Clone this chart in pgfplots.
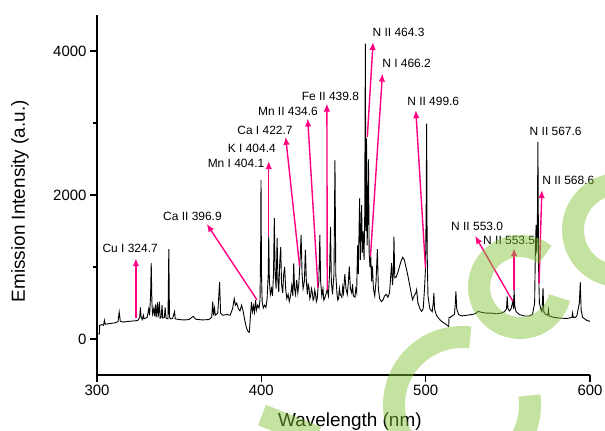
\documentclass[border=0pt]{standalone}
\usepackage{pgfplots}
\pgfplotsset{compat=1.18}
\usepackage{fontspec}
\setmainfont{Liberation Sans}
\usetikzlibrary{arrows.meta}

\definecolor{arrowpink}{RGB}{255,0,128}
\definecolor{wmgreen}{RGB}{129,194,48}

\newcommand{\lbl}[3]{\node[font=\fontsize{12}{14}\selectfont, inner sep=0pt] at (axis cs:#1,#2) {#3};}
\newcommand{\arr}[4]{\draw[arrowpink, line width=1.4pt, -{Latex[length=8bp,width=6.5bp]}] (axis cs:#1,#2) -- (axis cs:#3,#4);}

\begin{document}
\begin{tikzpicture}[x=1bp,y=1bp]
\begin{axis}[
    at={(0,0)}, anchor=south west,
    scale only axis,
    width=493bp, height=360bp,
    xmin=300, xmax=600,
    ymin=-500, ymax=4500,
    axis x line*=bottom,
    axis y line*=left,
    axis line style={line width=1.2pt},
    xtick={300,400,500,600},
    ytick={0,2000,4000},
    minor ytick={1000,3000},
    tick align=outside,
    major tick length=7bp,
    minor tick length=4bp,
    every tick/.style={line width=1.2pt, black},
    /pgf/number format/assume math mode=true,
    /pgf/number format/1000 sep={},
    tick label style={font=\fontsize{15}{18}\selectfont},
    xlabel={Wavelength (nm)},
    ylabel={Emission Intensity (a.u.)},
    label style={font=\fontsize{19}{22}\selectfont},
    xlabel style={at={(axis description cs:0.513,-0.13)}, anchor=center},
    ylabel style={at={(axis description cs:-0.156,0.483)}, anchor=center},
    clip=false,
]
\addplot[black, line width=0.9pt] coordinates {
(300.0,70) (301.5,70) (301.6,190) (303,200) (304,190) (304.5,260) (305,205) (308,215)
(311,225) (312.8,240) (313.5,375) (314.2,245) (316,235) (319,245) (322,250) (324,255)
(325,262) (326,300) (326.4,440) (326.8,310) (327.5,270) (328.2,330) (328.6,280) (329.5,290)
(330.5,300) (331.5,420) (332,330) (332.6,600) (333.0,1055) (333.4,520) (333.8,350) (334.5,420)
(335,320) (335.6,480) (336,300) (336.8,510) (337.2,300) (338,520) (338.4,290) (339,300)
(339.6,470) (340,290) (341,300) (341.5,440) (342,290) (343.2,280) (343.7,1250) (344.1,300)
(345,280) (346,285) (347.2,380) (347.6,280) (350,270) (353,265) (356,270) (358.5,315)
(360,275) (364,265) (368,270) (369.8,300) (370.4,520) (370.9,330) (371.5,430) (372,330)
(373.5,360) (374.6,790) (375.2,360) (376.5,330) (379,340) (381,330) (382.5,420) (383.5,560)
(384.2,470) (385,500) (386,420) (387,390) (388,470) (389,380) (390,250) (391,150)
(392,100) (392.7,95) (393.3,300) (394,510) (394.6,380) (395.2,460) (395.8,370) (396.5,540)
(397.0,400) (397.8,470) (398.6,430) (399.2,540) (399.6,1300) (399.8,2210) (400.1,900) (400.5,520)
(401.2,430) (402,470) (402.8,440) (403.5,560) (404.2,900) (404.5,1430) (404.9,800) (405.5,620)
(406.2,700) (406.8,600) (407.4,900) (407.9,1680) (408.4,900) (409.0,700) (409.6,1400) (410.1,800)
(410.6,650) (411.2,1060) (411.8,1280) (412.3,760) (413,640) (413.6,900) (414.2,1000) (414.8,700)
(415.5,560) (416.3,620) (417,520) (417.8,600) (418.5,740) (419.2,600) (419.7,1050) (420.2,700)
(420.8,620) (421.5,820) (422.2,640) (422.8,760) (423.4,1010) (424.2,1446) (424.8,900) (425.4,700)
(426.2,800) (426.8,1237) (427.4,800) (428,620) (428.5,760) (429,720) (429.5,560) (430,600)
(430.5,700) (431,650) (431.5,540) (432,560) (432.5,680) (433,620) (433.5,520) (434,560)
(434.5,707) (435.0,800) (435.6,1446) (436.1,800) (436.8,600) (437.5,700) (438,540) (438.5,560)
(439.3,620) (440.1,684) (440.8,600) (441.5,900) (442.1,1557) (442.6,800) (443.3,620) (444.2,900)
(444.8,2485) (445.3,900) (446,640) (446.5,540) (447,560) (447.5,700) (448,620) (449,580)
(449.5,720) (450,640) (450.8,900) (451.5,700) (452.3,620) (453,800) (453.5,1007) (454.2,700)
(455,640) (455.5,760) (456,600) (457,580) (457.5,700) (458,650) (458.6,1300) (459.0,900)
(459.8,1954) (460.3,1100) (461,1861) (461.5,1200) (462,1500) (462.5,1100) (462.9,1700) (463.3,4102)
(463.6,1500) (464.0,2785) (464.4,1300) (464.8,1800) (465.2,2494) (465.6,1200) (466.1,1000) (466.6,1146)
(467.1,800) (467.6,1007) (468.2,700) (469,600) (469.8,800) (470.6,1247) (471.2,700) (472,560)
(473,520) (474,540) (475,600) (476,620) (477,580) (478,640) (478.8,900) (479.3,1053)
(479.8,750) (480.3,900) (480.7,1423) (481.2,850) (482,860) (483,920) (484,1000) (485,1080)
(486,1136) (487,1100) (488,1000) (489,900) (490,780) (491,660) (492,545) (493,600)
(494,640) (494.5,684) (495.3,500) (496.5,420) (497.5,383) (498.5,420) (499.3,700) (499.9,984)
(500.3,1800) (500.6,2993) (500.9,1200) (501.4,600) (502.5,420) (504,380) (504.6,500) (505,637)
(505.4,420) (506.5,330) (508.6,268) (510,240) (512,210) (514,175) (514.2,300) (515,300)
(516,320) (517.5,340) (518,480) (518.4,660) (518.9,420) (520,340) (522,320) (525,330)
(528,340) (530,350) (532,383) (534,370) (537,360) (540,360) (543,350) (546,360)
(548,380) (549.2,420) (549.6,591) (550.1,420) (551,390) (552,420) (552.6,480) (553.1,522)
(553.5,420) (553.8,684) (554.2,460) (555,380) (557,340) (560,320) (563,320) (565,340)
(566.3,500) (566.8,1300) (567.2,1584) (567.6,1190) (568.0,1700) (568.3,2739) (568.7,1000) (569.2,500)
(570,420) (570.8,380) (571.4,707) (571.9,380) (573,340) (574.3,330) (574.7,406) (575.1,320)
(578,300) (582,290) (586,285) (589,300) (589.4,360) (589.8,300) (591,300) (592,320)
(593.5,500) (594.1,785) (594.6,400) (595.5,300) (598,260) (600,245)
};
\arr{323.7}{290}{323.7}{1122}
\arr{397.3}{545}{366.8}{1598}
\arr{404.5}{1432}{404.5}{2471}
\arr{423.3}{1007}{414.8}{2808}
\arr{434.5}{707}{428.2}{3062}
\arr{440.1}{684}{439.9}{3270}
\arr{464.5}{2808}{468}{4125}
\arr{466.4}{1146}{473.7}{3686}
\arr{499.9}{984}{494}{3178}
\arr{553.1}{522}{530.1}{1432}
\arr{553.8}{684}{553.8}{1261}
\arr{569}{776}{570.7}{2069}
\lbl{320.2}{1261}{Cu I 324.7}
\lbl{358.1}{1700}{Ca II 396.9}
\lbl{384.6}{2443}{Mn I 404.1}
\lbl{394.2}{2642}{K I 404.4}
\lbl{402.2}{2896}{Ca I 422.7}
\lbl{416.2}{3159}{Mn II 434.6}
\lbl{442}{3372}{Fe II 439.8}
\lbl{483.5}{4259}{N II 464.3}
\lbl{488.4}{3824}{N I 466.2}
\lbl{504.6}{3307}{N II 499.6}
\lbl{579.1}{2887}{N II 567.6}
\lbl{586.8}{2203}{N II 568.6}
\lbl{531.3}{1561}{N II 553.0}
\lbl{550.8}{1367}{N II 553.5}
\end{axis}
% watermark, drawn over the plot
\begin{scope}[wmgreen, opacity=0.46, line width=22bp]
\draw (365,-30) ++(83:68) arc[start angle=83, end angle=368, radius=68];
\draw (423,88) ++(52:41) arc[start angle=52, end angle=345, radius=41];
\draw (522,145) ++(85:46) arc[start angle=85, end angle=285, radius=46];
\draw (165,-40) -- (220,-62);
\end{scope}
\pgfresetboundingbox
\path[use as bounding box] (-97,-55) rectangle (508,375);
\end{tikzpicture}
\end{document}
